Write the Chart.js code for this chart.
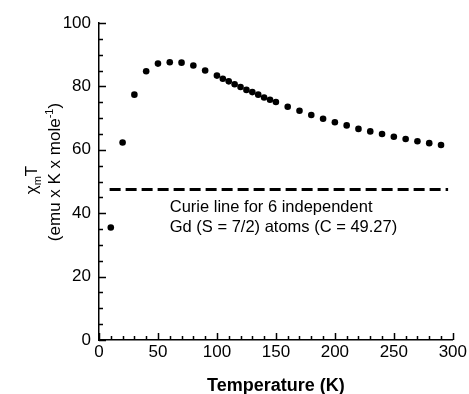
<!DOCTYPE html>
<html>
<head>
<meta charset="utf-8">
<script src="https://cdn.jsdelivr.net/npm/chart.js@4.4.1/dist/chart.umd.min.js"></script>
<style>
  html, body { margin: 0; padding: 0; background: #fff; }
  #wrap { width: 469px; height: 394px; }
</style>
</head>
<body>
<div id="wrap"><canvas id="chiChart" width="469" height="394"></canvas></div>
<script>
// measured points (T in K, chi_m*T)
const temps = [10, 20, 30, 40, 50, 60, 70, 80, 90, 100, 105, 110, 115, 120, 125, 130, 135, 140, 145, 150,
  160, 170, 180, 190, 200, 210, 220, 230, 240, 250, 260, 270, 280, 290];
const chiT = [35.5, 62.3, 77.4, 84.8, 87.2, 87.6, 87.5, 86.6, 85.0, 83.4, 82.4, 81.6, 80.7, 79.8, 78.9, 78.2, 77.4, 76.5, 75.8, 75.1,
  73.6, 72.3, 71.0, 69.8, 68.7, 67.7, 66.6, 65.8, 65.0, 64.1, 63.4, 62.7, 62.1, 61.5];

// Curie line
const curieX = [9, 296];
const curieY = [47.5, 47.5];
const curieLabel = ["Curie line for 6 independent", "Gd (S = 7/2) atoms (C = 49.27)"];

// axis ticks
const xMajor = 50, xMinor = 10;
const yMajor = 20, yMinor = 5;

Chart.defaults.font.family = '"Liberation Sans", Arial, Helvetica, sans-serif';
Chart.defaults.color = '#000';

// inward tick marks on left + bottom axes
const inwardTicks = {
  id: 'inwardTicks',
  afterDraw(chart) {
    const { ctx, chartArea, scales: { x, y } } = chart;
    ctx.save();
    ctx.strokeStyle = '#000';
    ctx.lineWidth = 1.5;
    ctx.beginPath();
    x.ticks.forEach(t => {
      const px = Math.round(x.getPixelForValue(t.value)) + 0.5;
      const len = t.value % xMajor === 0 ? 7 : 4;
      ctx.moveTo(px, chartArea.bottom);
      ctx.lineTo(px, chartArea.bottom - len);
    });
    y.ticks.forEach(t => {
      const py = Math.round(y.getPixelForValue(t.value)) + 0.5;
      const len = t.value % yMajor === 0 ? 7 : 4;
      ctx.moveTo(chartArea.left, py);
      ctx.lineTo(chartArea.left + len, py);
    });
    ctx.stroke();
    ctx.restore();
  }
};

// y title with sub/superscript, plus the curie note
const labels = {
  id: 'labels',
  afterDraw(chart) {
    const { ctx, scales: { x, y } } = chart;
    ctx.save();
    ctx.fillStyle = '#000';
    ctx.textBaseline = 'alphabetic';

    // line 1: chi_m T
    const big = '17px "Liberation Sans", Arial, sans-serif';
    const small = '11px "Liberation Sans", Arial, sans-serif';
    ctx.save();
    ctx.translate(37, 180);
    ctx.rotate(-Math.PI / 2);
    ctx.font = big; const w1 = ctx.measureText('\u03c7').width;
    ctx.font = small; const w2 = ctx.measureText('m').width;
    ctx.font = big; const w3 = ctx.measureText('T').width;
    let cx = -(w1 + w2 + w3) / 2;
    ctx.font = big; ctx.fillText('\u03c7', cx, 0); cx += w1;
    ctx.font = small; ctx.fillText('m', cx, 4); cx += w2;
    ctx.font = big; ctx.fillText('T', cx, 0);
    ctx.restore();

    // line 2: (emu x K x mole-1)
    ctx.save();
    ctx.translate(60, 172);
    ctx.rotate(-Math.PI / 2);
    ctx.font = big; const a = ctx.measureText('(emu x K x mole').width;
    ctx.font = small; const b = ctx.measureText('-1').width;
    ctx.font = big; const c = ctx.measureText(')').width;
    cx = -(a + b + c) / 2;
    ctx.font = big; ctx.fillText('(emu x K x mole', cx, 0); cx += a;
    ctx.font = small; ctx.fillText('-1', cx, -7); cx += b;
    ctx.font = big; ctx.fillText(')', cx, 0);
    ctx.restore();

    // curie note
    ctx.font = '16.5px "Liberation Sans", Arial, sans-serif';
    const lx = x.getPixelForValue(60);
    ctx.fillText(curieLabel[0], lx, y.getPixelForValue(40.5));
    ctx.fillText(curieLabel[1], lx, y.getPixelForValue(34.2));
    ctx.restore();
  }
};

new Chart(document.getElementById('chiChart'), {
  type: 'scatter',
  data: {
    datasets: [
      {
        label: 'chiT',
        data: temps.map((t, i) => ({ x: t, y: chiT[i] })),
        backgroundColor: '#000',
        borderColor: '#000',
        pointRadius: 3.3,
        pointBorderWidth: 0
      },
      {
        label: 'Curie',
        type: 'line',
        data: curieX.map((t, i) => ({ x: t, y: curieY[i] })),
        borderColor: '#000',
        borderWidth: 3,
        borderDash: [11, 5],
        pointRadius: 0,
        fill: false
      }
    ]
  },
  options: {
    responsive: false,
    animation: false,
    layout: { padding: { left: 0, top: 23, right: 16, bottom: 0 } },
    plugins: { legend: { display: false }, tooltip: { enabled: false } },
    scales: {
      x: {
        type: 'linear',
        min: 0, max: 300,
        grid: { display: false, drawTicks: false },
        border: { display: true, color: '#000', width: 1.5 },
        ticks: {
          stepSize: xMinor,
          autoSkip: false,
          maxRotation: 0,
          padding: 2,
          font: { size: 17 },
          callback: v => (v % xMajor === 0 ? v : '')
        },
        title: {
          display: true,
          text: 'Temperature (K)',
          font: { size: 18, weight: 'bold' },
          padding: { top: 0, bottom: -3 }
        },
        afterFit: s => { s.height = 54; }
      },
      y: {
        min: 0, max: 100,
        grid: { display: false, drawTicks: false },
        border: { display: true, color: '#000', width: 1.5 },
        ticks: {
          stepSize: yMinor,
          autoSkip: false,
          padding: 8,
          font: { size: 17 },
          callback: v => (v % yMajor === 0 ? v : '')
        },
        afterFit: s => { s.width = 99; }
      }
    }
  },
  plugins: [inwardTicks, labels]
});
</script>
</body>
</html>
